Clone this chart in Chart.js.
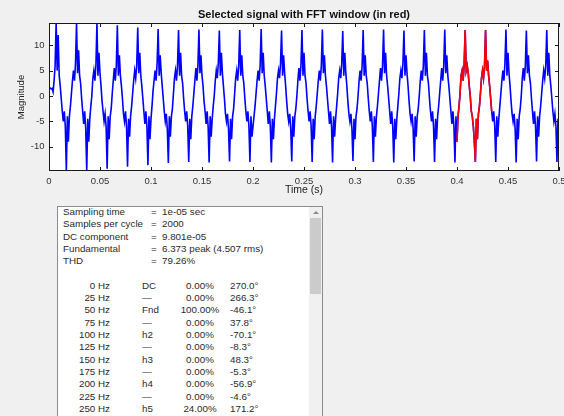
<!DOCTYPE html>
<html>
<head>
<meta charset="utf-8">
<script src="https://cdn.jsdelivr.net/npm/chart.js@4.4.1/dist/chart.umd.min.js"></script>
<style>
  html, body { margin: 0; padding: 0; width: 564px; height: 416px; overflow: hidden; background: #f0f0f0;
               font-family: "Liberation Sans", Arial, sans-serif; }
  #plot { position: absolute; left: 0; top: 0; }
  #listbox { position: absolute; left: 57px; top: 206px; width: 266px; height: 240px; background: #fff;
             border: 1px solid #8c8c8c; box-sizing: border-box; }
  #scroll { position: absolute; left: 251px; top: 0; width: 13px; height: 100%; background: #f0f0f0; }
  #thumb { position: absolute; left: 1px; top: 11px; width: 11px; height: 76px; background: #cbcbcb; }
  #arrow { position: absolute; left: 4px; top: 4px; width: 0; height: 0;
           border-left: 3px solid transparent; border-right: 3px solid transparent; border-bottom: 3px solid #8a8a8a; }
  .cell { position: absolute; font-size: 9.8px; line-height: 12px; color: #2a2a2a; white-space: pre; }
</style>
</head>
<body>
<canvas id="plot" width="564" height="200"></canvas>
<div id="listbox"><div id="scroll"><div id="arrow"></div><div id="thumb"></div></div></div>
<div id="texts"></div>
<script>
// Sampled signal, 1 ms apart, one line per 20 ms cycle
const timeStep = 0.001;
const signalValues = [
  1.5, 1.6, 1.4, 1.5, 0.8,    3, 6, 14.37, 5, 12,          4, 2, -0.5, -3, -5,          -3, -6, -14.76, -4, -9,
  -4, -2, 0.5, 3, 5,          3, 6.5, 14.37, 4.5, 9,       4, 2.5, -0.5, -3, -5.5,      -3, -6.5, -14.76, -4.5, -9,
  -4.5, -2, 0, 3.5, 5,        3, 6, 14.37, 4, 8.5,         4.5, 2, -1, -3, -5,          -3.5, -6, -14.3, -4, -8.5,
  -4, -2.5, 0.5, 3, 5.5,      3, 6, 13.9, 4, 8,            4, 2, -0.5, -3.5, -5,        -3, -6, -13.9, -4.5, -8,
  -4, -2, 0.5, 3, 5,          3.5, 6, 13.5, 4.5, 8.5,      4, 2, -0.5, -3, -5.5,        -3, -6, -13.6, -4, -8.5,
  -4.5, -2, 1, 3, 5,          3, 6.5, 13.2, 4, 8,          4.5, 2, -0.5, -3, -5,        -3.5, -6.5, -13.2, -4, -8,
  -4, -2.5, 0.5, 3.5, 5,      3, 6, 13, 4, 8.5,            4, 2.5, -0.5, -3, -5,        -3, -6, -13, -4.5, -8.5,
  -4, -2, 0.5, 3, 5.5,        3, 6, 13.1, 4.5, 8,          4, 2, -1, -3, -5.5,          -3, -6, -13.1, -4, -8,
  -4.5, -2, 0, 3, 5,          3.5, 6.5, 12.9, 4, 8.5,      4.5, 2, -0.5, -3.5, -5,      -3.5, -6.5, -12.9, -4.5, -8.5,
  -4, -2.5, 0.5, 3.5, 5,      3, 6, 13, 4, 8,              4, 2.5, -0.5, -3, -5,        -3, -6, -13, -4, -8,
  -6, -4, -2, 0.5, 3,         5, 3, 6, 13.2, 4.5,          8.5, 4, 2, -0.5, -3,         -5.5, -3, -6, -13.1, -4.5,
  -8.5, -4.5, -2, 0.5, 3.5,   5, 3.5, 6.5, 12.9, 4,        8, 4.5, 2, -1, -3.5,         -5, -3.5, -6.5, -12.9, -4,
  -8, -4, -2.5, 0, 3,         5.5, 3, 6, 13, 4,            8.5, 4, 2.5, -0.5, -3,       -5, -3, -6, -13, -4.5,
  -8.5, -4, -2, 0.5, 3,       5, 3, 6, 13.1, 4.5,          8, 4, 2, -0.5, -3,           -5.5, -3, -6, -13.1, -4,
  -8, -4.5, -2, 0.5, 3.5,     5, 3.5, 6.5, 12.8, 4,        8.5, 4.5, 2, -1, -3.5,       -5, -3.5, -6.5, -12.8, -4.5,
  -8.5, -4, -2.5, 0, 3,       5, 3, 6, 13, 4,              8, 4, 2.5, -0.5, -3,         -5, -3, -6, -13, -4,
  -8, -4, -2, 0.5, 3,         5.5, 3, 6, 13.1, 4.5,        8.5, 4, 2, -0.5, -3,         -5.5, -3, -6, -13.1, -4.5,
  -8.5, -4.5, -2, 0.5, 3.5,   5, 3.5, 6.5, 12.9, 4,        8, 4.5, 2, -1, -3.5,         -5, -3.5, -6.5, -12.9, -4,
  -8, -4, -2.5, 0, 3,         5, 3, 6, 13, 4,              8.5, 4, 2.5, -0.5, -3,       -5, -3, -6, -13, -4.5,
  -8.5, -4, -2, 0.5, 3,       5.5, 3, 6, 13.1, 4.5,        8, 4, 2, -0.5, -3,           -5.5, -3, -6, -13.1, -4,
  -9, -4, -2, 0.5, 4,         5, 3, 6, 13, 5,              6, 4.5, 2, 0, -3,            -4, -6, -9, -13, -4.5,
  -8.5, -3.5, -2, 0.5, 3.5,   5, 3.5, 6, 13, 5,            7, 4, 2, -0.5, -3,           -5, -3, -6, -13, -4,
  -8, -4.5, -2, 0.5, 3,       5, 3, 6.5, 13.1, 4,          8.5, 4.5, 2, -1, -3.5,       -5, -3.5, -6.5, -13.1, -4.5,
  -8.5, -4, -2.5, 0, 3.5,     5.5, 3, 6, 12.9, 4.5,        8, 4, 2.5, -0.5, -3,         -5.5, -3, -6, -12.9, -4,
  -8, -4, -2, 0.5, 3,         5, 3.5, 6, 13, 4,            8.5, 4, 2, -0.5, -3,         -5, -3.5, -6, -13, -4.5,
  -8.5
];

// FFT window (drawn in red)
const windowStart = 0.400;
const windowEnd = 0.434;

// Axes
const xRange = [0, 0.5];
const yRange = [-14.76, 14.37];
const xTickValues = [0, 0.05, 0.1, 0.15, 0.2, 0.25, 0.3, 0.35, 0.4, 0.45, 0.5];
const xTickLabels = ['0', '0.05', '0.1', '0.15', '0.2', '0.25', '0.3', '0.35', '0.4', '0.45', '0.5'];
const yTickValues = [-10, -5, 0, 5, 10];
const yTickLabels = ['-10', '-5', '0', '5', '10'];

// FFT analysis listing
const summaryLabels = ['Sampling time', 'Samples per cycle', 'DC component', 'Fundamental', 'THD'];
const summaryValues = ['1e-05 sec', '2000', '9.801e-05', '6.373 peak (4.507 rms)', '79.26%'];
const harmonicFreqs = ['0 Hz', '25 Hz', '50 Hz', '75 Hz', '100 Hz', '125 Hz', '150 Hz', '175 Hz', '200 Hz', '225 Hz', '250 Hz'];
const harmonicNames = ['DC', '\u2014', 'Fnd', '\u2014', 'h2', '\u2014', 'h3', '\u2014', 'h4', '\u2014', 'h5'];
const harmonicMags = ['0.00%', '0.00%', '100.00%', '0.00%', '0.00%', '0.00%', '0.00%', '0.00%', '0.00%', '0.00%', '24.00%'];
const harmonicPhases = ['270.0\u00b0', '266.3\u00b0', '-46.1\u00b0', '37.8\u00b0', '-70.1\u00b0', '-8.3\u00b0', '48.3\u00b0', '-5.3\u00b0', '-56.9\u00b0', '-4.6\u00b0', '171.2\u00b0'];

const signalPoints = signalValues.map((v, i) => ({ x: Math.round(i * timeStep * 1000) / 1000, y: v }));
const windowPoints = signalPoints.filter(p => p.x >= windowStart - 1e-9 && p.x <= windowEnd + 1e-9);

const FONT = '"Liberation Sans", Arial, sans-serif';

// White axes background
const axesBackground = {
  id: 'axesBackground',
  beforeDraw(chart) {
    const { ctx, chartArea: a } = chart;
    ctx.save();
    ctx.fillStyle = '#ffffff';
    ctx.fillRect(a.left, a.top, a.right - a.left, a.bottom - a.top);
    ctx.restore();
  }
};

// Box around the axes with inward tick marks on all four sides
const framePlugin = {
  id: 'frame',
  afterDraw(chart) {
    const { ctx, chartArea: a, scales } = chart;
    ctx.save();
    ctx.strokeStyle = '#1a1a1a';
    ctx.lineWidth = 1;
    ctx.strokeRect(Math.round(a.left) + 0.5, Math.round(a.top) + 0.5,
                   Math.round(a.right - a.left) - 1, Math.round(a.bottom - a.top) - 1);
    ctx.beginPath();
    xTickValues.forEach(v => {
      const px = Math.round(scales.x.getPixelForValue(v)) + 0.5;
      ctx.moveTo(px, a.bottom); ctx.lineTo(px, a.bottom - 4);
      ctx.moveTo(px, a.top); ctx.lineTo(px, a.top + 4);
    });
    yTickValues.forEach(v => {
      const py = Math.round(scales.y.getPixelForValue(v)) + 0.5;
      ctx.moveTo(a.left, py); ctx.lineTo(a.left + 4, py);
      ctx.moveTo(a.right, py); ctx.lineTo(a.right - 4, py);
    });
    ctx.stroke();
    ctx.restore();
  }
};

new Chart(document.getElementById('plot').getContext('2d'), {
  type: 'line',
  data: {
    datasets: [
      { label: 'FFT window', data: windowPoints, borderColor: '#ff0000', borderWidth: 1.6,
        pointRadius: 0, tension: 0, fill: false },
      { label: 'Signal', data: signalPoints, borderColor: '#0000ff', borderWidth: 1.6,
        pointRadius: 0, tension: 0, fill: false }
    ]
  },
  options: {
    responsive: false,
    animation: false,
    devicePixelRatio: 1,
    parsing: false,
    layout: { padding: { left: 0, right: 5, top: 0, bottom: 0 } },
    plugins: {
      legend: { display: false },
      tooltip: { enabled: false },
      title: {
        display: true, fullSize: false,
        text: 'Selected signal with FFT window (in red)',
        color: '#111',
        font: { family: FONT, size: 11, weight: 'bold', lineHeight: 1.2 },
        padding: { top: 8.4, bottom: 1.4 }
      }
    },
    scales: {
      x: {
        type: 'linear', min: xRange[0], max: xRange[1],
        grid: { display: false, drawTicks: false },
        border: { display: false },
        afterBuildTicks: s => { s.ticks = xTickValues.map(v => ({ value: v })); },
        afterFit: s => { s.height = 29; s.paddingLeft = 0; s.paddingRight = 0; },
        ticks: {
          autoSkip: false, maxRotation: 0, padding: 4.5, color: '#333',
          font: { family: FONT, size: 9.5 },
          callback: (v, i) => xTickLabels[i]
        },
        title: {
          display: true, text: 'Time (s)', color: '#222',
          font: { family: FONT, size: 10.5, lineHeight: 1.2 },
          padding: { top: 0, bottom: 3.7 }
        }
      },
      y: {
        type: 'linear', min: yRange[0], max: yRange[1],
        grid: { display: false, drawTicks: false },
        border: { display: false },
        afterBuildTicks: s => { s.ticks = yTickValues.map(v => ({ value: v })); },
        afterFit: s => { s.width = 49; s.paddingTop = 0; s.paddingBottom = 0; },
        ticks: {
          autoSkip: false, padding: 4.5, color: '#333',
          font: { family: FONT, size: 9.5 },
          callback: (v, i) => yTickLabels[i]
        },
        title: {
          display: true, text: 'Magnitude', color: '#222',
          font: { family: FONT, size: 9.5, lineHeight: 1.2 },
          padding: { top: 16, bottom: 0 }
        }
      }
    }
  },
  plugins: [axesBackground, framePlugin]
});

// Text listing inside the list box
const texts = document.getElementById('texts');
const ROW0 = 212, ROWH = 12.3;
function cell(text, row, left, width, align) {
  const d = document.createElement('div');
  d.className = 'cell';
  d.textContent = text;
  d.style.top = (ROW0 + row * ROWH - 6) + 'px';
  d.style.left = left + 'px';
  if (width) { d.style.width = width + 'px'; d.style.textAlign = align; }
  texts.appendChild(d);
}
summaryLabels.forEach((t, i) => {
  cell(t, i, 63);
  cell('=', i, 151);
  cell(summaryValues[i], i, 162);
});
harmonicFreqs.forEach((f, i) => {
  const r = 6 + i;
  cell(f, r, 60, 50, 'right');
  cell(harmonicNames[i], r, 142);
  cell(harmonicMags[i], r, 170, 60, 'center');
  cell(harmonicPhases[i], r, 230);
});
</script>
</body>
</html>
